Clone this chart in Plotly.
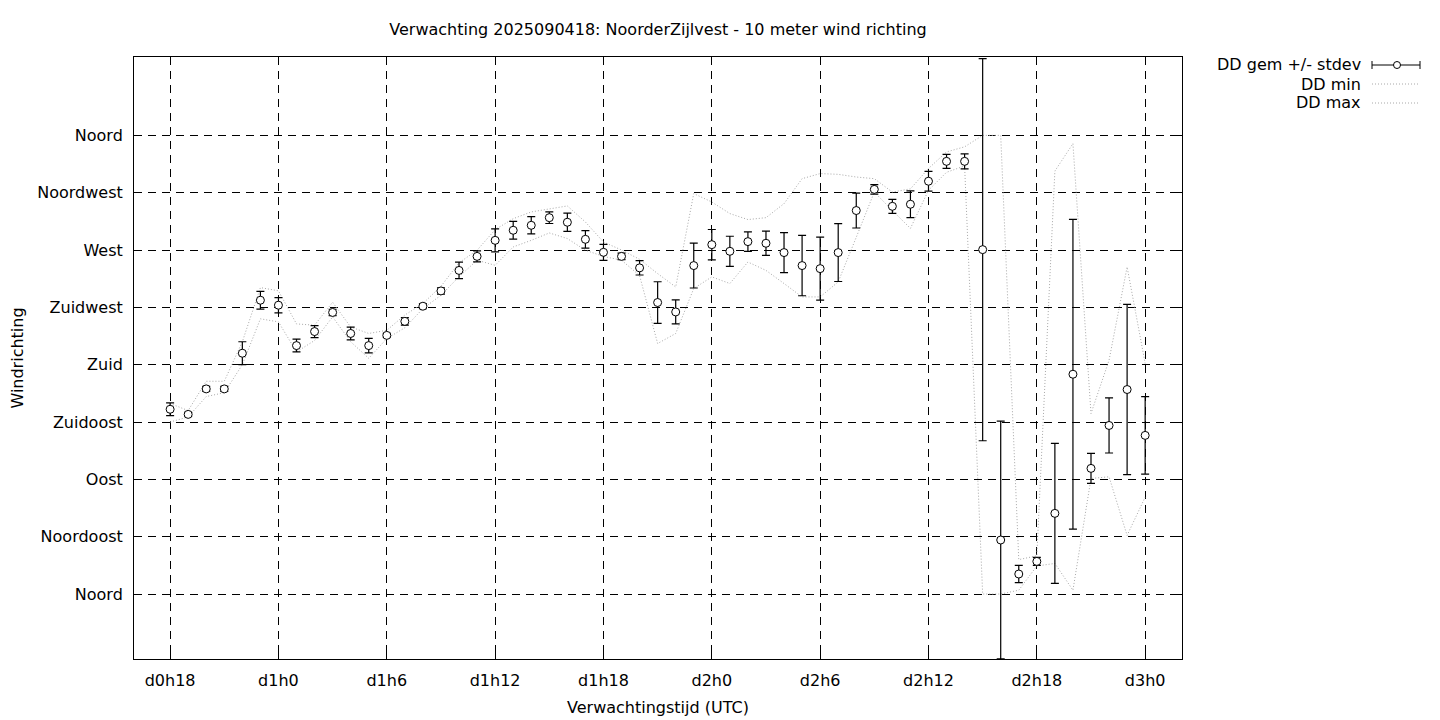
import plotly.graph_objects as go

# ---- data (hours since d0h0) ----
hours = list(range(18, 73))
dd_mean = [145, 141, 161, 161, 189, 230.6, 226.7, 195, 206, 221, 204.5, 195, 203, 214,
           225.9, 237.9, 254, 265, 277.6, 285.5, 289.4, 295.4, 291.8, 278.4, 268.2, 265, 256,
           228.8, 221.4, 257.8, 274.2, 269, 276.6, 275.3, 268, 257.8, 255.4, 268, 301, 317.6,
           304.3, 305.9, 324, 339.6, 339.6, 270.3, 42.4, 15.7, 25.6, 63.3, 172.5, 98.6, 132.3,
           160.5, 124.5]
dd_sd = [5, 1.5, 2, 2, 9, 7, 6, 5, 4.7, 2.5, 5, 5.7, 1.5, 3,
         2, 2.5, 6.5, 4.3, 9, 7, 6.8, 4.6, 7.2, 6.9, 6.3, 2.5, 5.6,
         16.3, 9.4, 17.6, 11.9, 11.8, 7.7, 9.5, 15.7, 23.7, 24.8, 22.7, 13.7, 3.8,
         5.5, 10.5, 7.8, 5.5, 5.9, 150, 93.3, 6.8, 3.1, 55, 121.5, 11.8, 21.6,
         66.8, 30.4]
dd_min = [135, 139, 155, 158, 180, 216, 213.6, 190, 199, 217.5, 198, 185, 200.5, 209,
          224, 234.5, 249, 262, 258, 272.4, 277.6, 283.4, 279, 269.8, 265, 262, 250,
          196.6, 204.5, 239.8, 248.9, 243.7, 260.6, 254, 243.7, 233.2, 233.2, 245, 280, 315.5,
          301, 287, 316.9, 331, 336, 0, 0, 3, 22, 24, 3, 90.7, 92,
          46, 76]
dd_max = [149.5, 144, 167, 167, 198, 240.5, 238, 212, 211, 229, 209.6, 204.5, 207, 219,
          228, 241.5, 260, 269.8, 286, 294.6, 299.9, 302.5, 304.6, 292, 276.3, 270, 262.7,
          251.5, 241, 314.3, 307.7, 298.6, 293.9, 295.4, 306.4, 326, 330, 329.4, 327.3, 326,
          315.5, 318, 334, 347, 351, 360, 360, 27, 30, 332, 353.5, 141.7, 183.5,
          256.7, 181]

x_tickvals = [18, 24, 30, 36, 42, 48, 54, 60, 66, 72]
x_ticktext = ["d0h18", "d1h0", "d1h6", "d1h12", "d1h18", "d2h0", "d2h6", "d2h12", "d2h18", "d3h0"]
y_tickvals = [0, 45, 90, 135, 180, 225, 270, 315, 360]
y_ticktext = ["Noord", "Noordoost", "Oost", "Zuidoost", "Zuid", "Zuidwest", "West", "Noordwest", "Noord"]

FONT = "DejaVu Sans"
FS = 16
GRAY = "#a8a8a8"

# the page body has an 8px margin, so the figure is drawn 8px in from the window corner
OFF = 8
W, H = 1440 - OFF, 720 - OFF

fig = go.Figure()
fig.add_trace(go.Scatter(x=hours, y=dd_min, mode="lines", name="DD min",
                         line=dict(color=GRAY, width=1, dash="1px,2px"), showlegend=False))
fig.add_trace(go.Scatter(x=hours, y=dd_max, mode="lines", name="DD max",
                         line=dict(color=GRAY, width=1, dash="1px,2px"), showlegend=False))
fig.add_trace(go.Scatter(x=hours, y=dd_mean, mode="markers", name="DD gem +/- stdev",
                         marker=dict(symbol="circle", size=8, color="white",
                                     line=dict(color="black", width=1)),
                         error_y=dict(type="data", array=dd_sd, color="black", thickness=1.2, width=4),
                         showlegend=False))

# plot-area geometry in window pixels (for the hand-made legend in paper coordinates)
L, R, T, B = 134, 1182, 57, 659
def px(xp):
    return (xp - L) / (R - L)
def py(yp):
    return (B - yp) / (B - T)

axis_common = dict(showline=True, linecolor="black", linewidth=1, mirror="ticks",
                   ticks="inside", ticklen=6, tickcolor="black", tickwidth=1,
                   showgrid=True, gridcolor="black", gridwidth=1, griddash="8px,6px",
                   zeroline=False, tickfont=dict(family=FONT, size=FS, color="black"))

fig.update_layout(
    width=W, height=H,
    margin=dict(l=L - OFF, r=1440 - R, t=T - OFF, b=720 - B, autoexpand=False),
    paper_bgcolor="white", plot_bgcolor="white",
    font=dict(family=FONT, size=FS, color="black"),
    title=dict(text="Verwachting 2025090418: NoorderZijlvest - 10 meter wind richting",
               x=((392 + 924) / 2 - OFF) / W, xanchor="center",
               y=1 - (29 - OFF) / H, yanchor="middle",
               font=dict(family=FONT, size=FS, color="black")),
    xaxis=dict(range=[16, 74.04], tickvals=x_tickvals, ticktext=x_ticktext,
               title=dict(text="Verwachtingstijd (UTC)", standoff=12,
                          font=dict(family=FONT, size=FS)),
               ticklabelstandoff=7, **axis_common),
    yaxis=dict(range=[-51, 421.5], tickvals=y_tickvals, ticktext=y_ticktext,
               title=dict(text="Windrichting", standoff=12,
                          font=dict(family=FONT, size=FS)),
               ticklabelstandoff=7, **axis_common),
    showlegend=False,
)

# hand-made gnuplot-style legend (text right, sample on the right)
leg_items = [("DD gem +/- stdev", 65), ("DD min", 84), ("DD max", 103)]
for txt, yy in leg_items:
    fig.add_annotation(text=txt, xref="paper", yref="paper", x=px(1363), y=py(yy),
                       xanchor="right", yanchor="middle", showarrow=False,
                       font=dict(family=FONT, size=FS, color="black"))
shapes = []
y0 = py(65)
shapes.append(dict(type="line", xref="paper", yref="paper", x0=px(1372), x1=px(1420), y0=y0, y1=y0,
                   line=dict(color="black", width=1)))
for xx in (1372, 1420):
    shapes.append(dict(type="line", xref="paper", yref="paper", x0=px(xx), x1=px(xx),
                       y0=py(61), y1=py(69), line=dict(color="black", width=1)))
shapes.append(dict(type="circle", xref="paper", yref="paper", x0=px(1393.5), x1=px(1400.5),
                   y0=py(68.5), y1=py(61.5), fillcolor="white", line=dict(color="black", width=1)))
for yy in (84, 103):
    shapes.append(dict(type="line", xref="paper", yref="paper", x0=px(1372), x1=px(1420),
                       y0=py(yy), y1=py(yy), line=dict(color=GRAY, width=1, dash="1px,2px")))
fig.update_layout(shapes=shapes)

fig.write_html("out.html")
